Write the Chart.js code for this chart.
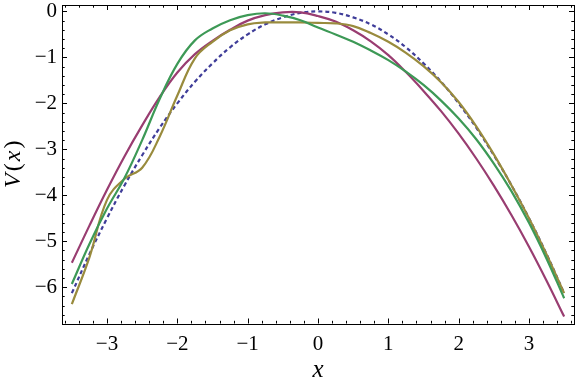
<!DOCTYPE html>
<html>
<head>
<meta charset="utf-8">
<script src="https://cdn.jsdelivr.net/npm/chart.js@4/dist/chart.umd.min.js"></script>
<style>
  html, body { margin: 0; padding: 0; background: #fff; }
  #wrap { width: 576px; height: 381px; }
</style>
</head>
<body>
<div id="wrap"><canvas id="plot" width="576" height="381"></canvas></div>
<script>
// sample positions (every 0.25)
const xs = [-3.5,-3.25,-3,-2.75,-2.5,-2.25,-2,-1.75,-1.5,-1.25,-1,-0.75,-0.5,-0.25,0,
            0.25,0.5,0.75,1,1.25,1.5,1.75,2,2.25,2.5,2.75,3,3.25,3.5];

const blueV = [-6.13,-5.28,-4.5,-3.78,-3.13,-2.53,-2,-1.53,-1.13,-0.78,-0.5,-0.28,-0.13,-0.03,0,
               -0.03,-0.13,-0.28,-0.5,-0.78,-1.13,-1.53,-2,-2.53,-3.13,-3.78,-4.5,-5.28,-6.13];
const magentaV = [-5.47,-4.66,-3.88,-3.15,-2.48,-1.86,-1.33,-0.93,-0.64,-0.4,-0.2,-0.08,-0.02,-0.02,-0.1,
                  -0.22,-0.41,-0.65,-0.95,-1.32,-1.73,-2.17,-2.66,-3.2,-3.79,-4.43,-5.12,-5.86,-6.64];
const oliveV = [-6.37,-5.35,-4.1,-3.64,-3.4,-2.72,-1.83,-1.02,-0.66,-0.41,-0.28,-0.24,-0.24,-0.24,-0.25,
                -0.26,-0.32,-0.47,-0.66,-0.9,-1.19,-1.54,-1.97,-2.5,-3.11,-3.78,-4.5,-5.29,-6.13];
const greenV = [-5.93,-5.06,-4.29,-3.62,-2.8,-1.9,-1.14,-0.63,-0.37,-0.19,-0.08,-0.04,-0.09,-0.19,-0.35,
                -0.5,-0.66,-0.85,-1.06,-1.31,-1.6,-1.94,-2.33,-2.78,-3.31,-3.91,-4.6,-5.38,-6.24];

const xTicks = [-3,-2,-1,0,1,2,3];
const yTicks = [0,-1,-2,-3,-4,-5,-6];

const serif = '"Liberation Serif", "DejaVu Serif", serif';

function pts(vals){ return xs.map((x,i) => ({ x: x, y: vals[i] })); }
function fmt(v){ return v < 0 ? '\u2212' + Math.abs(v) : String(v); }

// draws pieces [text, italic] one after another, centred on 0
function drawPieces(ctx, pieces, size, gap) {
  const fonts = pieces.map(p => (p[1] ? 'italic ' : '') + size + 'px ' + serif);
  let total = 0;
  const w = pieces.map((p, i) => { ctx.font = fonts[i]; const m = ctx.measureText(p[0]).width; total += m; return m; });
  total += gap * (pieces.length - 1);
  let cx = -total / 2;
  pieces.forEach((p, i) => {
    ctx.font = fonts[i];
    ctx.fillText(p[0], cx, 0);
    cx += w[i] + gap;
  });
}

// frame with inward ticks on all four sides, plus axis names
const framePlugin = {
  id: 'frame',
  afterDraw(chart) {
    const { ctx, chartArea: a, scales } = chart;
    const sx = scales.x, sy = scales.y;
    ctx.save();
    ctx.strokeStyle = '#000';
    ctx.lineWidth = 1;
    ctx.beginPath();
    for (let i = -18; i <= 18; i++) {
      const v = i * 0.2;
      if (v < sx.min || v > sx.max) continue;
      const p = Math.round(sx.getPixelForValue(v)) + 0.5;
      const len = (i % 5 === 0) ? 5 : 2.7;
      ctx.moveTo(p, a.bottom); ctx.lineTo(p, a.bottom - len);
      ctx.moveTo(p, a.top); ctx.lineTo(p, a.top + len);
    }
    for (let i = -34; i <= 1; i++) {
      const v = i * 0.2;
      if (v < sy.min || v > sy.max) continue;
      const p = Math.round(sy.getPixelForValue(v)) + 0.5;
      const len = (i % 5 === 0) ? 5 : 2.7;
      ctx.moveTo(a.left, p); ctx.lineTo(a.left + len, p);
      ctx.moveTo(a.right, p); ctx.lineTo(a.right - len, p);
    }
    ctx.stroke();
    ctx.strokeRect(Math.round(a.left) + 0.5, Math.round(a.top) + 0.5,
                   Math.round(a.right - a.left), Math.round(a.bottom - a.top));

    ctx.fillStyle = '#000';
    ctx.textBaseline = 'alphabetic';
    ctx.textAlign = 'left';
    ctx.save();
    ctx.translate((a.left + a.right) / 2, 377);
    drawPieces(ctx, [['x', true]], 25, 0);
    ctx.restore();
    ctx.save();
    ctx.translate(20, (a.top + a.bottom) / 2);
    ctx.rotate(-Math.PI / 2);
    drawPieces(ctx, [['V', true], ['(', false], ['x', true], [')', false]], 24, 2);
    ctx.restore();
    ctx.restore();
  }
};

function line(label, vals, color, dash) {
  return {
    label, data: pts(vals), borderColor: color, backgroundColor: color,
    borderWidth: 2.2, borderDash: dash || [], pointRadius: 0,
    tension: 0.4, fill: false
  };
}

new Chart(document.getElementById('plot'), {
  type: 'line',
  data: {
    datasets: [
      line('green', greenV, 'rgb(61,153,86)'),
      line('olive', oliveV, 'rgb(153,139,61)'),
      line('magenta', magentaV, 'rgb(153,61,113)'),
      line('blue', blueV, 'rgb(63,61,153)', [4, 3])
    ]
  },
  options: {
    responsive: false,
    devicePixelRatio: 1,
    animation: false,
    layout: { padding: { top: 5, right: 2, left: 0, bottom: 0 } },
    plugins: { legend: { display: false }, tooltip: { enabled: false } },
    scales: {
      x: {
        type: 'linear', min: -3.64, max: 3.64,
        grid: { display: false, drawTicks: false },
        border: { display: false },
        afterBuildTicks: s => { s.ticks = xTicks.map(v => ({ value: v })); },
        afterFit: s => { s.height = 57.5; s.paddingLeft = 0; s.paddingRight = 0; },
        ticks: { color: '#000', padding: 8, maxRotation: 0, font: { family: serif, size: 21 }, callback: fmt }
      },
      y: {
        type: 'linear', min: -6.79, max: 0.14,
        grid: { display: false, drawTicks: false },
        border: { display: false },
        afterBuildTicks: s => { s.ticks = yTicks.map(v => ({ value: v })); },
        afterFit: s => { s.width = 62; s.paddingTop = 0; s.paddingBottom = 0; },
        ticks: { color: '#000', padding: 5, font: { family: serif, size: 21 }, callback: fmt }
      }
    }
  },
  plugins: [framePlugin]
});
</script>
</body>
</html>
